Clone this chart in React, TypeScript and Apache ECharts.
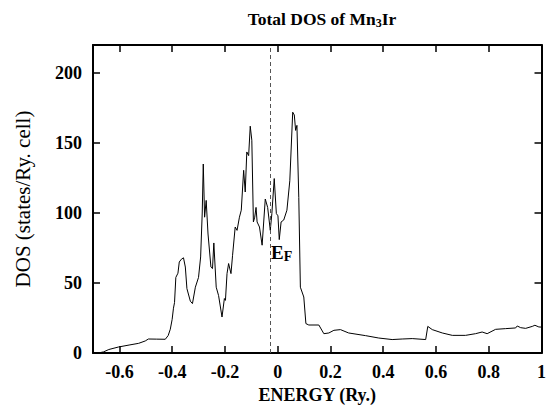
import React, { useEffect, useRef } from "react";
import * as echarts from "echarts";

const energy = [
  -0.7, -0.68, -0.66, -0.64, -0.603, -0.56, -0.527, -0.502, -0.49, -0.46, -0.426, -0.415, -0.407, -0.4, -0.395,
  -0.391, -0.386, -0.378, -0.373, -0.365, -0.357, -0.35, -0.344, -0.331, -0.323, -0.312, -0.3, -0.292, -0.286,
  -0.282, -0.277, -0.271, -0.264, -0.253, -0.247, -0.242, -0.233, -0.224, -0.211, -0.202, -0.198, -0.192, -0.186,
  -0.177, -0.171, -0.161, -0.154, -0.145, -0.138, -0.129, -0.123, -0.117, -0.11, -0.104, -0.098, -0.092, -0.087,
  -0.082, -0.078, -0.069, -0.059, -0.047, -0.038, -0.028, -0.022, -0.013, -0.005, 0.001, 0.006, 0.013, 0.023,
  0.035, 0.046, 0.057, 0.063, 0.068, 0.073, 0.08, 0.086, 0.099, 0.107, 0.118, 0.156, 0.175, 0.194, 0.213, 0.238,
  0.269, 0.333, 0.383, 0.434, 0.472, 0.51, 0.561, 0.569, 0.586, 0.624, 0.662, 0.712, 0.75, 0.775, 0.794, 0.826,
  0.864, 0.902, 0.908, 0.921, 0.94, 0.965, 0.975, 0.99, 1.0,
];
const dos = [
  0, 0, 0.8, 2.5, 4.3, 5.8, 6.9, 8.6, 10, 9.9, 9.8, 12.5, 17, 24, 32,
  36, 54, 57, 65, 67, 68, 61.4, 46, 37, 35.3, 47, 54, 68.6, 100,
  135, 97, 109, 85, 61.4, 60.3, 78.6, 47, 41, 25.7, 38.9, 37.6, 56.7, 63.9,
  56.7, 69.8, 90, 87.6, 97, 102, 130.5, 115, 143.6, 141, 162, 152, 93.6, 97,
  104, 93.6, 90, 77, 110, 104, 87.6, 99.6, 124.6, 99.6, 98, 81, 93.6, 95,
  102, 123, 172, 170, 159, 162.6, 111, 47, 40, 21, 20, 20, 13.8, 14.3, 16.2, 16.7,
  14.3, 12.4, 10.7, 9.6, 10, 10.3, 9.6, 19, 16.7, 14.3, 12.6, 12.6, 13.8, 15, 13.8, 16.9,
  17.4, 17.9, 19.3, 18.1, 17.6, 19, 19.8, 18.6, 18.5,
];
const xTicks = [-0.6, -0.4, -0.2, 0, 0.2, 0.4, 0.6, 0.8, 1];
const yTicks = [0, 50, 100, 150, 200];
const fermiEnergy = -0.027;

const FONT = "Liberation Serif";

export default function App() {
  const ref = useRef<HTMLDivElement>(null);
  useEffect(() => {
    if (!ref.current) return;
    const chart = echarts.init(ref.current, null, { renderer: "svg" });
    const fmtX = (v: number) => (v === 0 ? "0" : v === 1 ? "1" : v.toFixed(1));
    const tickCommon = { show: true, inside: true, length: 7, lineStyle: { color: "#000", width: 1.5 } };
    const lineCommon = { show: true, lineStyle: { color: "#000", width: 2 } };
    chart.setOption({
      animation: false,
      backgroundColor: "#fff",
      textStyle: { fontFamily: FONT },
      title: {
        text: "{a|Total DOS of Mn}{s|3}{a|Ir}",
        left: 317,
        textAlign: "center",
        top: 3,
        textStyle: {
          fontFamily: FONT,
          rich: {
            a: { fontFamily: FONT, fontSize: 17.5, fontWeight: "bold", color: "#000" },
            s: { fontFamily: FONT, fontSize: 12, fontWeight: "bold", color: "#000", padding: [9, 0, 0, 0] },
          },
        },
      },
      grid: { left: 93, right: 6, top: 45, bottom: 59 },
      xAxis: [
        {
          type: "value",
          min: -0.7,
          max: 1,
          name: "ENERGY (Ry.)",
          nameLocation: "middle",
          nameGap: 24,
          nameTextStyle: { fontFamily: FONT, fontSize: 18, fontWeight: "bold", color: "#000" },
          axisLine: { ...lineCommon, onZero: false },
          axisTick: { ...tickCommon, customValues: xTicks },
          axisLabel: {
            customValues: xTicks,
            formatter: fmtX,
            fontFamily: FONT,
            fontSize: 18,
            fontWeight: "bold",
            color: "#000",
            margin: 10,
          },
          splitLine: { show: false },
        },
        {
          type: "value",
          position: "top",
          min: -0.7,
          max: 1,
          axisLine: { ...lineCommon, onZero: false },
          axisTick: { ...tickCommon, customValues: xTicks },
          axisLabel: { show: false },
          splitLine: { show: false },
        },
      ],
      yAxis: [
        {
          type: "value",
          min: 0,
          max: 220,
          name: "DOS (states/Ry. cell)",
          nameLocation: "middle",
          nameGap: 60,
          nameTextStyle: { fontFamily: FONT, fontSize: 21, color: "#000" },
          axisLine: { ...lineCommon, onZero: false },
          axisTick: { ...tickCommon, customValues: yTicks },
          axisLabel: {
            customValues: yTicks,
            fontFamily: FONT,
            fontSize: 18,
            fontWeight: "bold",
            color: "#000",
            margin: 11,
          },
          splitLine: { show: false },
        },
        {
          type: "value",
          position: "right",
          min: 0,
          max: 220,
          axisLine: { ...lineCommon, onZero: false },
          axisTick: { ...tickCommon, customValues: yTicks },
          axisLabel: { show: false },
          splitLine: { show: false },
        },
      ],
      series: [
        {
          type: "line",
          xAxisIndex: 0,
          yAxisIndex: 0,
          data: energy.map((e, i) => [e, dos[i]]),
          showSymbol: false,
          symbol: "none",
          lineStyle: { color: "#000", width: 1 },
          markLine: {
            silent: true,
            symbol: "none",
            label: { show: false },
            lineStyle: { color: "#555", width: 1, type: [4, 3] },
            data: [{ xAxis: fermiEnergy }],
          },
        },
      ],
      graphic: [
        {
          type: "text",
          left: 271,
          top: 243,
          style: {
            text: "{e|E}{f|F}",
            fontFamily: FONT,
            rich: {
              e: { fontFamily: FONT, fontSize: 19, fontWeight: "bold", fill: "#000" },
              f: { fontFamily: FONT, fontSize: 14, fontWeight: "bold", fill: "#000", padding: [8, 0, 0, 0] },
            },
          },
        },
      ],
    });
    return () => chart.dispose();
  }, []);
  return (
    <div
      ref={ref}
      style={{ position: "absolute", left: 0, top: 0, width: 549, height: 412 }}
    />
  );
}
